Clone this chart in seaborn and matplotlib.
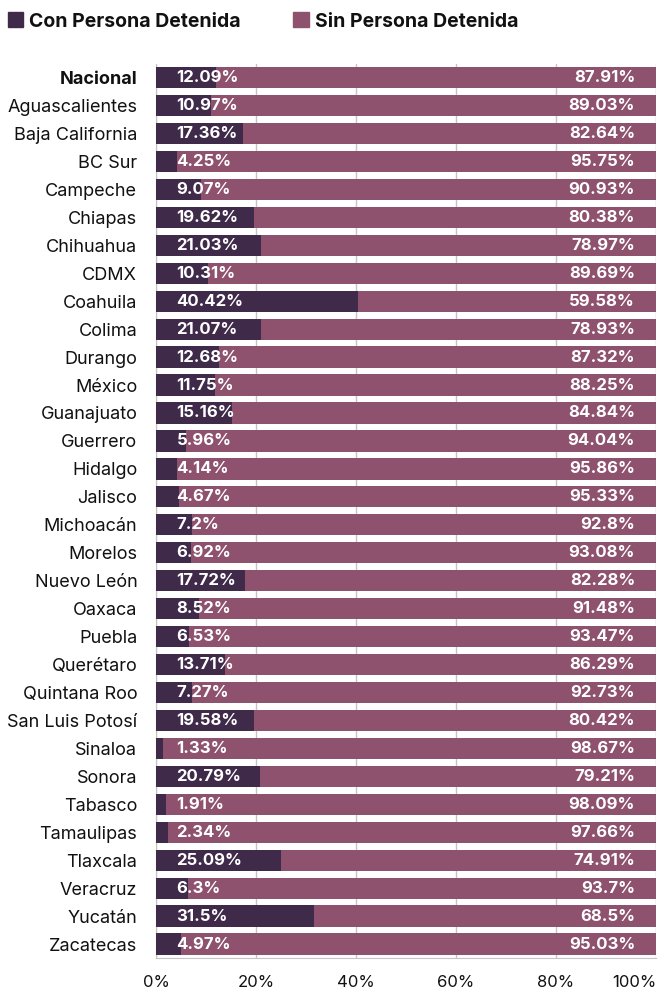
import matplotlib.pyplot as plt
import pandas as pd
import seaborn as sns
from matplotlib.patches import Patch

sns.set_style("white")
plt.rcParams["font.family"] = ["Inter", "DejaVu Sans"]
plt.rcParams["text.color"] = "#111111"
plt.rcParams["xtick.color"] = "#111111"
plt.rcParams["ytick.color"] = "#111111"

estados = [
    "Nacional", "Aguascalientes", "Baja California", "BC Sur", "Campeche", "Chiapas",
    "Chihuahua", "CDMX", "Coahuila", "Colima", "Durango", "México", "Guanajuato",
    "Guerrero", "Hidalgo", "Jalisco", "Michoacán", "Morelos", "Nuevo León", "Oaxaca",
    "Puebla", "Querétaro", "Quintana Roo", "San Luis Potosí", "Sinaloa", "Sonora",
    "Tabasco", "Tamaulipas", "Tlaxcala", "Veracruz", "Yucatán", "Zacatecas",
]
con_detenida = [
    12.09, 10.97, 17.36, 4.25, 9.07, 19.62, 21.03, 10.31, 40.42, 21.07, 12.68, 11.75,
    15.16, 5.96, 4.14, 4.67, 7.2, 6.92, 17.72, 8.52, 6.53, 13.71, 7.27, 19.58, 1.33,
    20.79, 1.91, 2.34, 25.09, 6.3, 31.5, 4.97,
]
sin_detenida = [
    87.91, 89.03, 82.64, 95.75, 90.93, 80.38, 78.97, 89.69, 59.58, 78.93, 87.32, 88.25,
    84.84, 94.04, 95.86, 95.33, 92.8, 93.08, 82.28, 91.48, 93.47, 86.29, 92.73, 80.42,
    98.67, 79.21, 98.09, 97.66, 74.91, 93.7, 68.5, 95.03,
]
x_ticks = [0, 20, 40, 60, 80, 100]

df = pd.DataFrame({"estado": estados, "con": con_detenida, "sin": sin_detenida})
df["total"] = df["con"] + df["sin"]

c_con = "#3f2a4a"
c_sin = "#8e526e"

fig = plt.figure(figsize=(6.6, 9.89), dpi=100)
ax = fig.add_axes([0.2364, 0.0313, 0.7576, 0.9044])

sns.barplot(data=df, y="estado", x="total", color=c_sin, width=0.76,
            saturation=1, linewidth=0, ax=ax, zorder=2)
sns.barplot(data=df, y="estado", x="con", color=c_con, width=0.76,
            saturation=1, linewidth=0, ax=ax, zorder=3)

for i, (c, s) in enumerate(zip(con_detenida, sin_detenida)):
    ax.text(4.1, i, f"{c:g}%", color="white", fontweight="bold", fontsize=12,
            ha="left", va="center", zorder=4)
    ax.text(95.8, i, f"{s:g}%", color="white", fontweight="bold", fontsize=12,
            ha="right", va="center", zorder=4)

ax.set_xlim(0, 100)
ax.set_ylim(len(estados) - 0.5, -0.5)
ax.set_xticks(x_ticks)
ax.set_xticklabels([f"{t}%" for t in x_ticks], fontsize=12)
ax.get_xticklabels()[-1].set_horizontalalignment("right")
ax.xaxis.grid(True, color="#c4c4c4", lw=1, zorder=0)
ax.set_axisbelow(True)
ax.tick_params(axis="x", length=0, pad=12.5)
ax.tick_params(axis="y", length=0, pad=13.5, labelsize=13)
ax.set_xlabel("")
ax.set_ylabel("")
for sp in ["top", "right"]:
    ax.spines[sp].set_visible(False)
ax.spines["left"].set_color("#c4c4c4")
ax.spines["bottom"].set_color("#c4c4c4")
ax.get_yticklabels()[0].set_fontweight("bold")

handles = [Patch(color=c_con, label="Con Persona Detenida"),
           Patch(color=c_sin, label="Sin Persona Detenida")]
leg = fig.legend(handles=handles, loc="center left", bbox_to_anchor=(0.012, 1 - 21.5 / 989),
                 ncol=2, frameon=False, handlelength=0.8, handleheight=0.8,
                 handletextpad=0.3, columnspacing=2.7, borderpad=0, borderaxespad=0,
                 prop={"weight": "bold", "size": 14})

fig.savefig("out.png", dpi=100)
